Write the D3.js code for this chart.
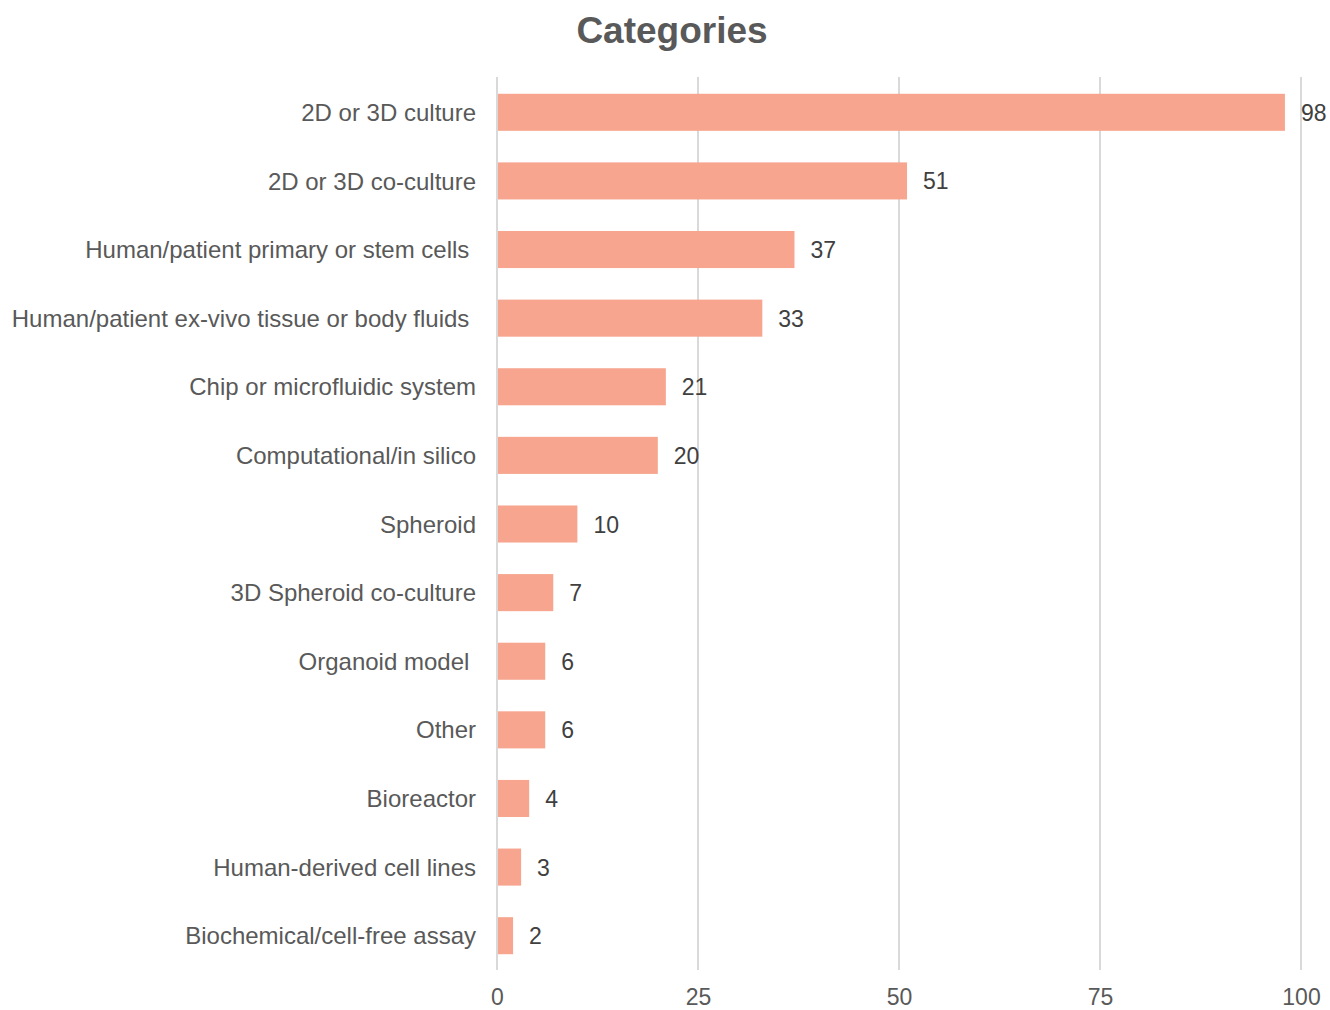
<html>
<head>
<title>Categories</title>
<script src="https://cdn.jsdelivr.net/npm/d3@7"></script>
<style>
body { margin: 0; background: #fff; }
text { font-family: "Liberation Sans", Arial, sans-serif; white-space: pre; }
</style>
</head>
<body>
<div id="chart"></div>
<script>
	// chart data
	var categories = ["2D or 3D culture", "2D or 3D co-culture", "Human/patient primary or stem cells ",
		"Human/patient ex-vivo tissue or body fluids ", "Chip or microfluidic system", "Computational/in silico",
		"Spheroid", "3D Spheroid co-culture", "Organoid model ", "Other", "Bioreactor",
		"Human-derived cell lines", "Biochemical/cell-free assay"];
	var counts = [98, 51, 37, 33, 21, 20, 10, 7, 6, 6, 4, 3, 2];
	var xTicks = [0, 25, 50, 75, 100];

	var width = 1330, height = 1010;
	var plotLeft = 497, plotRight = 1301, plotTop = 78, plotBottom = 970;

	var svg = d3.select("#chart").append("svg")
			.attr("width", width).attr("height", height);

	var x = d3.scaleLinear().domain([0, 100]).range([plotLeft, plotRight]);
	var y = d3.scaleBand().domain(categories).range([plotTop, plotBottom]).paddingInner(0.46).paddingOuter(0.23);

	// title
	svg.append("text").attr("x", 672).attr("y", 43).attr("text-anchor", "middle")
			.attr("font-size", 37).attr("font-weight", "bold").attr("fill", "#595959")
			.text("Categories");

	// grid lines
	svg.append("g").selectAll("line").data(xTicks).enter().append("line")
			.attr("x1", function(d) { return x(d); }).attr("x2", function(d) { return x(d); })
			.attr("y1", 77).attr("y2", plotBottom)
			.attr("stroke", "#d9d9d9").attr("stroke-width", 2);

	// x axis labels
	var xAxis = d3.axisBottom(x).tickValues(xTicks).tickSize(0).tickPadding(19);
	var gx = svg.append("g").attr("transform", "translate(0," + plotBottom + ")").call(xAxis);
	gx.select(".domain").remove();
	gx.selectAll("text").attr("font-size", 23).attr("fill", "#595959")
			.style("font-family", "'Liberation Sans', Arial, sans-serif");

	// bars
	svg.append("g").selectAll("rect").data(counts).enter().append("rect")
			.attr("x", x(0) + 1)
			.attr("y", function(d, i) { return y(categories[i]); })
			.attr("width", function(d) { return x(d) - x(0) - 1; })
			.attr("height", y.bandwidth())
			.attr("fill", "#f7a58f");

	// value labels
	svg.append("g").selectAll("text").data(counts).enter().append("text")
			.attr("x", function(d) { return x(d) + 16; })
			.attr("y", function(d, i) { return y(categories[i]) + y.bandwidth() / 2; })
			.attr("dy", "0.37em")
			.attr("font-size", 23).attr("fill", "#404040")
			.text(function(d) { return d; });

	// category labels
	var yAxis = d3.axisLeft(y).tickSize(0).tickPadding(21);
	var gy = svg.append("g").attr("transform", "translate(" + plotLeft + ",0)").call(yAxis);
	gy.select(".domain").remove();
	gy.selectAll("text").attr("font-size", 24).attr("fill", "#595959")
			.attr("dy", "0.36em")
			.style("font-family", "'Liberation Sans', Arial, sans-serif")
			.style("white-space", "pre");
</script>
</body>
</html>
